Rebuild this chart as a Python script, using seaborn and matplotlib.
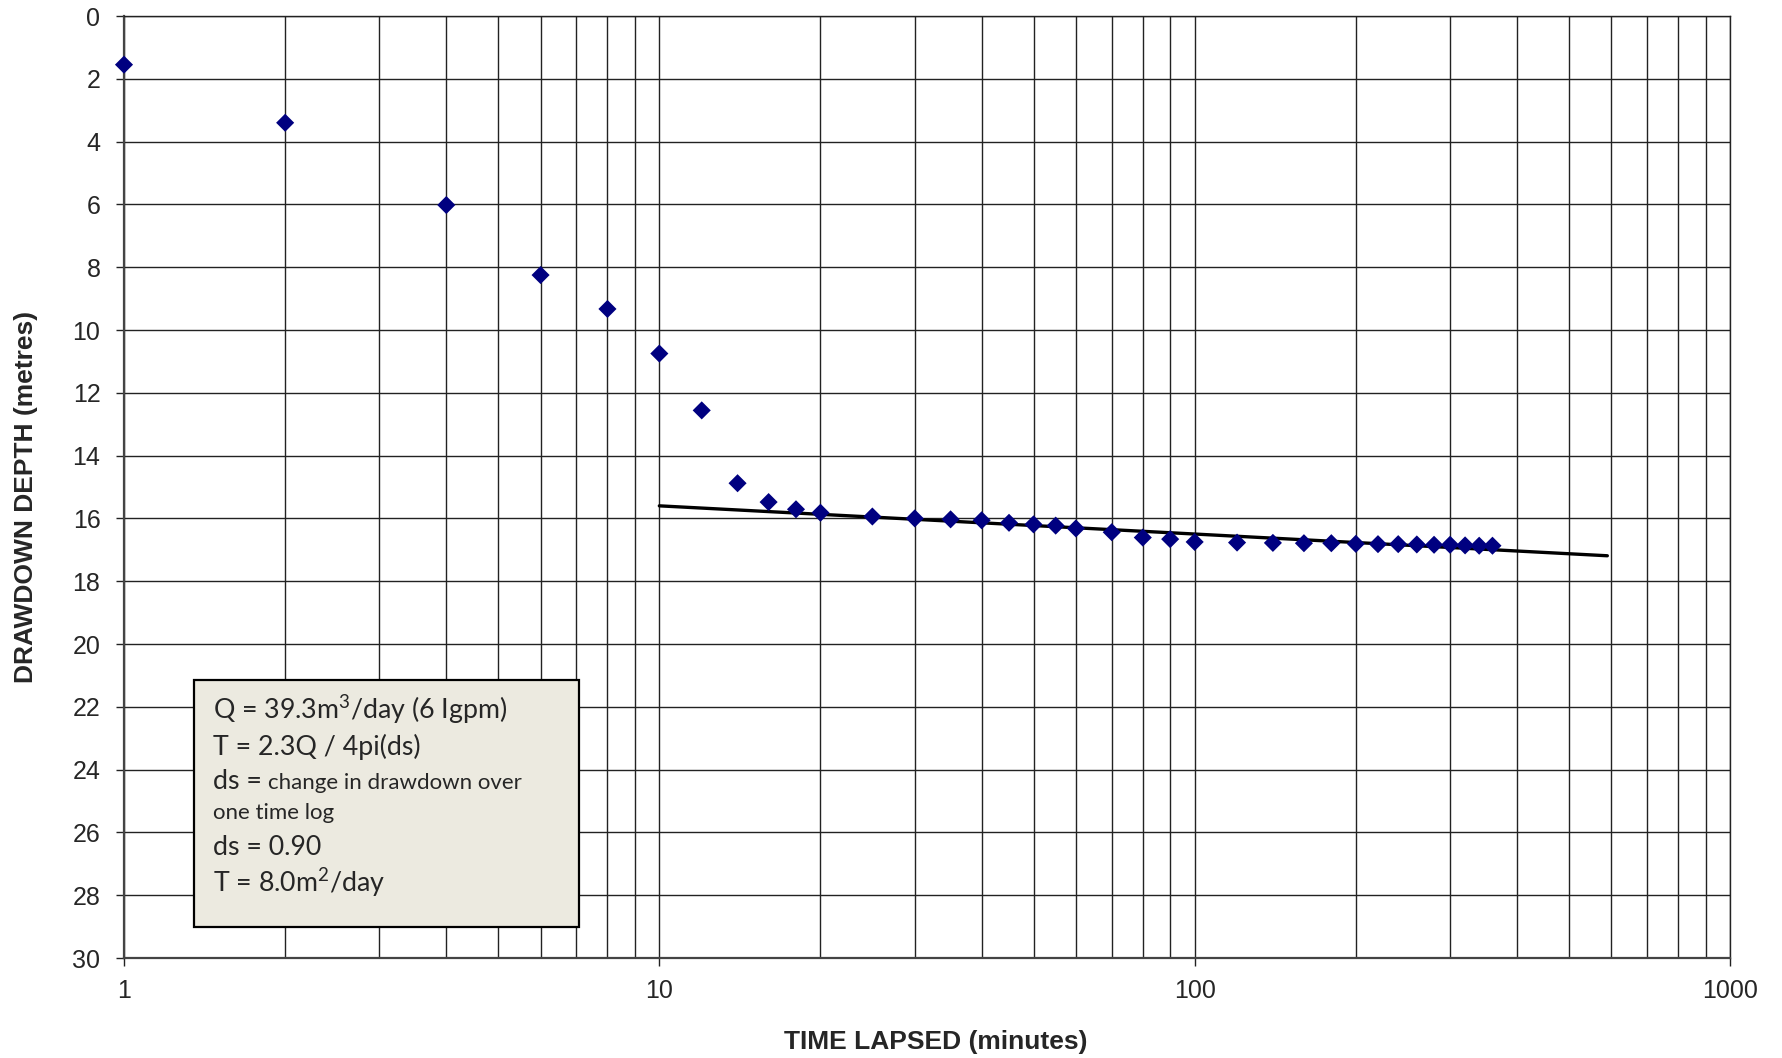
import numpy as np
import pandas as pd
import matplotlib
matplotlib.use("Agg")
import matplotlib.pyplot as plt
from matplotlib.patches import Rectangle
from matplotlib.ticker import FixedLocator, NullFormatter, FixedFormatter
import seaborn as sns

# --- data ---
time_min = [1, 2, 4, 6, 8, 10, 12, 14, 16, 18, 20, 25, 30, 35, 40, 45, 50, 55, 60,
            70, 80, 90, 100, 120, 140, 160, 180, 200, 220, 240, 260, 280, 300, 320, 340, 360]
drawdown = [1.55, 3.40, 6.02, 8.25, 9.33, 10.75, 12.56, 14.88, 15.48, 15.71, 15.82, 15.94,
            16.00, 16.03, 16.06, 16.14, 16.19, 16.23, 16.32, 16.44, 16.61, 16.66, 16.75,
            16.77, 16.78, 16.79, 16.79, 16.81, 16.82, 16.82, 16.83, 16.84, 16.84, 16.86,
            16.87, 16.87]
fit_time = [10, 590]
fit_drawdown = [15.6, 17.19]

y_ticks = list(range(0, 31, 2))
x_major = [1, 10, 100, 1000]
x_major_labels = ["1", "10", "100", "1000"]

# (text, baseline px, big font?)
box_lines = [("Q = 39.3m$^3$/day (6 Igpm)", 719, True),
             ("T = 2.3Q / 4pi(ds)", 755, True),
             ("ds = ", 789, True),
             ("one time log", 819, False),
             ("ds = 0.90", 855, True),
             ("T = 8.0m$^2$/day", 892, True)]
box_small = "change in drawdown over"

df = pd.DataFrame({"t": time_min, "dd": drawdown})
fit = pd.DataFrame({"t": fit_time, "dd": fit_drawdown})

sns.set_style("white")
plt.rcParams["font.family"] = ["Liberation Sans", "DejaVu Sans"]
plt.rcParams["mathtext.fontset"] = "custom"
plt.rcParams["mathtext.rm"] = "Lato"
plt.rcParams["mathtext.it"] = "Lato"
plt.rcParams["mathtext.default"] = "rm"

W, H = 1782, 1058
fig = plt.figure(figsize=(W / 100, H / 100), dpi=100)
ax = fig.add_axes([124 / W, 1 - 958 / H, (1730 - 124) / W, (958 - 16) / H])

ax.set_xscale("log")
ax.set_xlim(1, 1000)
ax.set_ylim(30, 0)

# grid
minor = [m * 10 ** e for e in range(0, 3) for m in range(2, 10)]
ax.xaxis.set_major_locator(FixedLocator(x_major))
ax.xaxis.set_major_formatter(FixedFormatter(x_major_labels))
ax.xaxis.set_minor_locator(FixedLocator(minor))
ax.xaxis.set_minor_formatter(NullFormatter())
ax.set_yticks(y_ticks)
ax.grid(True, which="both", axis="x", color="#222222", linewidth=1.0)
ax.grid(True, which="major", axis="y", color="#222222", linewidth=1.0)
ax.set_axisbelow(True)

sns.lineplot(data=fit, x="t", y="dd", ax=ax, color="black", linewidth=2.4, zorder=3)
sns.scatterplot(data=df, x="t", y="dd", ax=ax, marker="D", s=85, color="#000080",
                edgecolor="none", zorder=4, clip_on=False)

ax.tick_params(axis="both", which="major", labelsize=18, length=6, width=1, color="#222222",
               direction="out", left=True, bottom=True)
ax.tick_params(axis="y", pad=11)
ax.tick_params(axis="x", pad=9)
ax.tick_params(axis="x", which="minor", length=0)
for s in ax.spines.values():
    s.set_color("#222222")
    s.set_linewidth(1.0)
ax.spines["left"].set_linewidth(1.6)
ax.spines["bottom"].set_linewidth(1.6)
ax.spines["left"].set_color("#444444")
ax.spines["bottom"].set_color("#444444")

ax.set_xlabel("")
ax.set_ylabel("")
fig.text(936 / W, 1 - 1042 / H, "TIME LAPSED (minutes)", ha="center", va="center",
         fontsize=19, fontweight="bold")
fig.text(26 / W, 1 - 497 / H, "DRAWDOWN DEPTH (metres)", ha="center", va="center",
         rotation=90, fontsize=19, fontweight="bold")

# annotation box
fig.patches.append(Rectangle((194 / W, 1 - 927 / H), (579 - 194) / W, (927 - 680) / H,
                             transform=fig.transFigure, facecolor="#ECEAE0",
                             edgecolor="black", linewidth=1.6, zorder=5))
for txt, yb, big in box_lines:
    fig.text(213 / W, 1 - yb / H, txt, ha="left", va="baseline", fontsize=19.3 if big else 16,
             family=["Lato", "DejaVu Sans"], zorder=6)
fig.text(268 / W, 1 - 789 / H, box_small, ha="left", va="baseline", fontsize=16,
         family=["Lato", "DejaVu Sans"], zorder=6)

fig.savefig("out.png", dpi=100)
